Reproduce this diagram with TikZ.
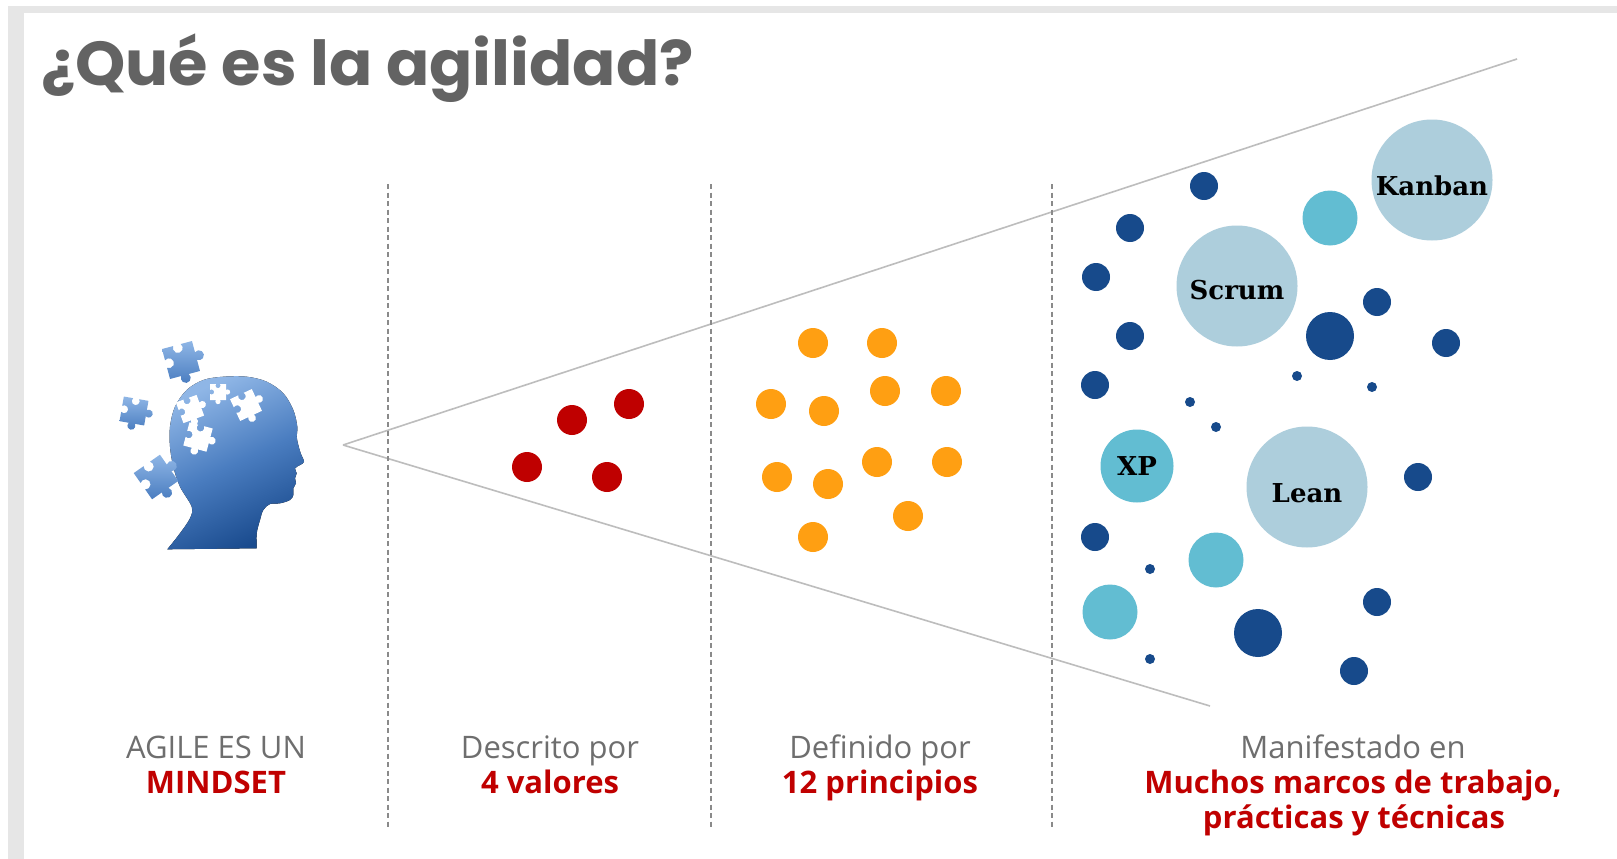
\documentclass[tikz,border=0pt]{standalone}
\usepackage{fontspec}
\setmainfont{Open Sans}
\newfontfamily\titlefont{Poppins}[FakeStretch=1.03]
\newfontfamily\slabfont{DejaVu Serif}
\usetikzlibrary{calc}
\definecolor{bandgray}{HTML}{E6E6E6}
\definecolor{titlegray}{HTML}{636363}
\definecolor{txtgray}{HTML}{6E6E6E}
\definecolor{agred}{HTML}{C00000}
\definecolor{dotred}{HTML}{BF0000}
\definecolor{dotorange}{HTML}{FF9F12}
\definecolor{darkblue}{HTML}{174A8B}
\definecolor{tealblue}{HTML}{62BDD2}
\definecolor{paleblue}{HTML}{ADCEDC}
\definecolor{fangray}{HTML}{BDBDBD}
\definecolor{dashgray}{HTML}{8A8A8A}
\definecolor{headlight}{HTML}{8FB6E6}
\definecolor{headmid}{HTML}{4A7DC0}
\definecolor{headdark}{HTML}{1A4B8E}
\tikzset{
  fanline/.style={draw=fangray, line width=1.6pt},
  divider/.style={draw=dashgray, line width=1.3pt, dash pattern=on 5pt off 3.5pt},
  dotbase/.style={circle, inner sep=0pt, draw=none},
  reddot/.style={dotbase, fill=dotred, minimum size=30pt},
  orangedot/.style={dotbase, fill=dotorange, minimum size=30pt},
  darkdot/.style={dotbase, fill=darkblue, minimum size=28pt},
  bigdark/.style={dotbase, fill=darkblue, minimum size=48pt},
  smalldot/.style={dotbase, fill=darkblue, minimum size=10pt},
  tealdot/.style={dotbase, fill=tealblue, minimum size=55pt},
  xpdot/.style={dotbase, fill=tealblue, minimum size=73pt},
  fwdot/.style={dotbase, fill=paleblue, minimum size=121pt},
  fwlabel/.style={inner sep=0pt, text=black, font=\slabfont\bfseries\fontsize{26}{29}\selectfont},
  titletxt/.style={inner sep=0pt, text=titlegray, font=\titlefont\bfseries\fontsize{62}{72}\selectfont},
  graytxt/.style={inner sep=0pt, text=txtgray, font=\fontsize{31}{36}\selectfont},
  redtxt/.style={inner sep=0pt, text=agred, font=\bfseries\fontsize{31}{36}\selectfont},
  bluepiece/.style={top color=headlight, bottom color=headmid},
  whitepiece/.style={fill=white},
  pics/puzzle/.style={code={
    \path[#1] (-1,-1) -- (-0.25,-1) arc[start angle=218.7, end angle=-38.7, radius=0.32]
      -- (1,-1) -- (1,-0.25) arc[start angle=-128.7, end angle=128.7, radius=0.32]
      -- (1,1) -- (0.25,1) arc[start angle=-38.7, end angle=218.7, radius=0.32]
      -- (-1,1) -- (-1,0.25) arc[start angle=128.7, end angle=-128.7, radius=0.32] -- cycle;
  }}
}
\begin{document}
\begin{tikzpicture}[x=1pt, y=-1pt]
\useasboundingbox (0,0) rectangle (1617,859);
\fill[white] (0,0) rectangle (1617,859);
\fill[bandgray] (8,6) rectangle (1617,13);
\fill[bandgray] (8,6) rectangle (24,859);

% title
\node[titletxt, anchor=base west] (title) at (41,85) {¿Qué es la agilidad?};

% fan lines
\coordinate (apex) at (343,445);
\coordinate (upEnd) at (1517,59);
\coordinate (loEnd) at (1210,706);
\draw[fanline] (apex) -- (upEnd);
\draw[fanline] (apex) -- (loEnd);

% dividers
\coordinate (d1t) at (388,184); \coordinate (d1b) at (388,828);
\coordinate (d2t) at (711,184); \coordinate (d2b) at (711,828);
\coordinate (d3t) at (1052,184); \coordinate (d3b) at (1052,828);
\draw[divider] (d1t) -- (d1b);
\draw[divider] (d2t) -- (d2b);
\draw[divider] (d3t) -- (d3b);

% head
\fill[top color=headlight, bottom color=headdark, middle color=headmid, shading angle=25]
  plot[smooth, tension=0.55] coordinates {
  (167.3,549.3) (180,533.3) (190,518.3) (191.7,506.7) (180,486.7) (173.3,466.7)
  (170,446.7) (170,426.7) (175,406.7) (186.7,390) (203.3,380) (223.3,376.7)
  (246.7,376.7) (266.7,381.7) (283.3,393.3) (293.3,410) (297.3,426.7) (296.7,436.7)
  (298.3,445) (300.7,453.3) (304,461.7) (300,465) (295,468.3) (296.7,473.3)
  (295,478.3) (296,483.3) (293.3,488.3) (293.3,495) (290,500) (280,503.3)
  (270,504) (263.3,510) (260,520) (256.7,533.3) (256.7,548.3)} -- cycle;
\pic[rotate=20, scale=11] (w1) at (190,409) {puzzle=whitepiece};
\pic[rotate=-15, scale=12] (w2) at (198,437) {puzzle=whitepiece};
\pic[rotate=25, scale=12] (w3) at (246,405) {puzzle=whitepiece};
\pic[rotate=0, scale=8] (w4) at (218,392) {puzzle=whitepiece};
\pic[rotate=15, scale=15.5] (p1) at (181,360) {puzzle=bluepiece};
\pic[rotate=-10, scale=12.5] (p2) at (134,411) {puzzle=bluepiece};
\pic[rotate=35, scale=16] (p3) at (156,477) {puzzle=bluepiece};

% red dots
\node[reddot] (r1) at (572,420) {};
\node[reddot] (r2) at (629,404) {};
\node[reddot] (r3) at (527,467) {};
\node[reddot] (r4) at (607,477) {};

% orange dots
\node[orangedot] (o1) at (813,343) {};
\node[orangedot] (o2) at (882,343) {};
\node[orangedot] (o3) at (771,404) {};
\node[orangedot] (o4) at (824,411) {};
\node[orangedot] (o5) at (885,391) {};
\node[orangedot] (o6) at (946,391) {};
\node[orangedot] (o7) at (777,477) {};
\node[orangedot] (o8) at (828,484) {};
\node[orangedot] (o9) at (877,462) {};
\node[orangedot] (o10) at (947,462) {};
\node[orangedot] (o11) at (908,516) {};
\node[orangedot] (o12) at (813,537) {};

% blue dots
\node[darkdot] (b1) at (1204,186) {};
\node[darkdot] (b2) at (1130,228) {};
\node[darkdot] (b3) at (1096,277) {};
\node[darkdot] (b4) at (1130,336) {};
\node[darkdot] (b5) at (1095,385) {};
\node[darkdot] (b6) at (1377,302) {};
\node[bigdark] (b7) at (1330,336) {};
\node[darkdot] (b8) at (1446,343) {};
\node[smalldot] (s1) at (1297,376) {};
\node[smalldot] (s2) at (1372,387) {};
\node[smalldot] (s3) at (1190,402) {};
\node[smalldot] (s4) at (1216,427) {};
\node[darkdot] (b9) at (1418,477) {};
\node[darkdot] (b10) at (1095,537) {};
\node[smalldot] (s5) at (1150,569) {};
\node[tealdot] (t1) at (1330,218) {};
\node[tealdot] (t2) at (1216,560) {};
\node[tealdot] (t3) at (1110,612) {};
\node[bigdark] (b11) at (1258,633) {};
\node[darkdot] (b12) at (1377,602) {};
\node[smalldot] (s6) at (1150,659) {};
\node[darkdot] (b13) at (1354,671) {};

% frameworks
\node[fwdot] (scrumc) at (1237,286) {};
\node[fwlabel] (scrum) at ($(scrumc)+(0,4)$) {Scrum};
\node[fwdot] (kanbanc) at (1432,180) {};
\node[fwlabel] (kanban) at ($(kanbanc)+(0,6)$) {Kanban};
\node[fwdot] (leanc) at (1307,487) {};
\node[fwlabel] (lean) at ($(leanc)+(0,6)$) {Lean};
\node[xpdot] (xpc) at (1137,466) {};
\node[fwlabel] (xp) at (xpc) {XP};

% captions
\node[graytxt, anchor=base] (c1a) at (216,758) {AGILE ES UN};
\node[redtxt, anchor=base] (c1b) at (216,793) {MINDSET};
\node[graytxt, anchor=base] (c2a) at (550,758) {Descrito por};
\node[redtxt, anchor=base] (c2b) at (550,793) {4 valores};
\node[graytxt, anchor=base] (c3a) at (880,758) {Definido por};
\node[redtxt, anchor=base] (c3b) at (880,793) {12 principios};
\node[graytxt, anchor=base] (c4a) at (1353,758) {Manifestado en};
\node[redtxt, anchor=base] (c4b) at (1353,793) {Muchos marcos de trabajo,};
\node[redtxt, anchor=base] (c4c) at (1354,828) {prácticas y técnicas};
\end{tikzpicture}
\end{document}
